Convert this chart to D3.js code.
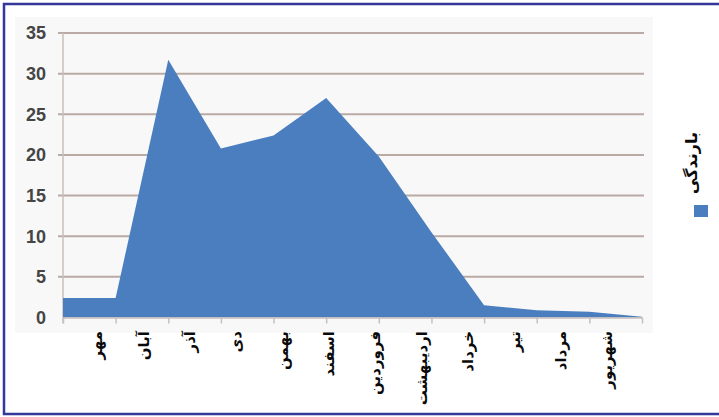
<!DOCTYPE html>
<html>
<head>
<meta charset="utf-8">
<script src="https://cdn.jsdelivr.net/npm/d3@7"></script>
<style>
  html, body { margin: 0; padding: 0; background: #fff; }
  .ylabel { font-family: "Liberation Sans", Arial, sans-serif; font-weight: bold; font-size: 18px; fill: #454545; }
  .mlabel, .legend-text { font-family: "DejaVu Sans", sans-serif; font-weight: bold; font-size: 15px; fill: #0a0a0a; }
  .legend-text { font-size: 16px; }
</style>
</head>
<body>
<div id="chart-container"></div>
<script>
// Monthly rainfall (Persian calendar months)
var months = ['مهر', 'آبان', 'آذر', 'دی', 'بهمن', 'اسفند', 'فروردین', 'اردیبهشت', 'خرداد', 'تیر', 'مرداد', 'شهریور']
var rainfall = [2.4, 2.4, 31.7, 20.8, 22.4, 27.0, 19.8, 10.5, 1.5, 0.9, 0.7, 0.1]
var yTicks = [0, 5, 10, 15, 20, 25, 30, 35]
var seriesName = 'بارندگی'

var WIDTH = 719
var HEIGHT = 417
var plot = {left: 63, right: 642, top: 33, bottom: 317.5}
var AREA_COLOR = '#4a7ebf'
var GRID_COLOR = '#b9aaa5'

var svg = d3.select('#chart-container')
  .append('svg')
  .attr('width', WIDTH)
  .attr('height', HEIGHT)

// frame (top, left, bottom only - picture is cropped on the right)
svg.append('path')
  .attr('d', 'M' + WIDTH + ',4 L4,4 L4,414 L' + WIDTH + ',414')
  .attr('fill', 'none')
  .attr('stroke', '#33389a')
  .attr('stroke-width', 2.5)

// chart area background
svg.append('rect')
  .attr('x', 15).attr('y', 17)
  .attr('width', 638).attr('height', 316)
  .attr('fill', '#f8f8f8')

var xScale = d3.scalePoint()
  .domain(months)
  .range([plot.left, plot.right])

// category labels sit a little apart from the tick marks in the picture
var labelScale = d3.scalePoint()
  .domain(months)
  .range([97, 607])

var yScale = d3.scaleLinear()
  .domain([0, 35])
  .range([plot.bottom, plot.top])

/* gridlines */
svg.append('g').attr('class', 'grid')
  .selectAll('line')
  .data(yTicks.filter(function(t) { return t > 0 }))
  .enter().append('line')
    .attr('x1', plot.left - 5)
    .attr('x2', plot.right + 2)
    .attr('y1', function(d) { return yScale(d) })
    .attr('y2', function(d) { return yScale(d) })
    .attr('stroke', GRID_COLOR)
    .attr('stroke-width', 2)

/* y axis line */
svg.append('line')
  .attr('x1', plot.left).attr('x2', plot.left)
  .attr('y1', plot.top).attr('y2', plot.bottom + 6)
  .attr('stroke', '#c9bfbb')
  .attr('stroke-width', 1.5)

/* area */
var areaGenerator = d3.area()
  .x(function(d, i) { return xScale(months[i]) })
  .y0(yScale(0))
  .y1(function(d) { return yScale(d) })

svg.append('path')
  .datum(rainfall)
  .attr('fill', AREA_COLOR)
  .attr('d', areaGenerator)

/* x axis */
var xAxis = svg.append('g')
  .attr('transform', 'translate(0,' + plot.bottom + ')')
  .call(d3.axisBottom(xScale).tickFormat('').tickSize(6).tickSizeOuter(0))
xAxis.select('.domain').attr('stroke', '#c9bfbb').attr('stroke-width', 1.5)
xAxis.selectAll('.tick line').attr('stroke', '#c9bfbb').attr('stroke-width', 1.5)

/* y labels */
svg.append('g')
  .selectAll('text')
  .data(yTicks)
  .enter().append('text')
    .attr('class', 'ylabel')
    .attr('x', 46)
    .attr('y', function(d) { return yScale(d) })
    .attr('dy', '0.35em')
    .attr('text-anchor', 'end')
    .text(function(d) { return d })

/* month labels, rotated so the first letter is on top */
svg.append('g')
  .selectAll('text')
  .data(months)
  .enter().append('text')
    .attr('class', 'mlabel')
    .attr('transform', function(d) { return 'translate(' + labelScale(d) + ',331) rotate(-90)' })
    .attr('text-anchor', 'end')
    .attr('dy', '0.35em')
    .text(function(d) { return d })

/* legend */
svg.append('text')
  .attr('class', 'legend-text')
  .attr('transform', 'translate(691,132) rotate(-90)')
  .attr('text-anchor', 'end')
  .attr('dy', '0.35em')
  .text(seriesName)

svg.append('rect')
  .attr('x', 694).attr('y', 205)
  .attr('width', 14).attr('height', 12)
  .attr('fill', AREA_COLOR)
</script>
</body>
</html>
